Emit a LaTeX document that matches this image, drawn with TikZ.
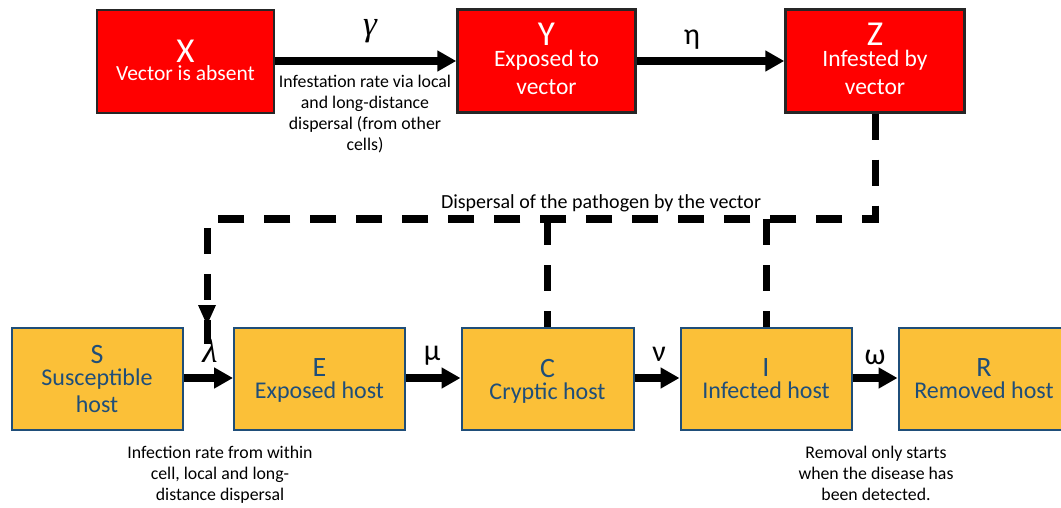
\documentclass[tikz,border=0pt]{standalone}
\usepackage{fontspec}
\setmainfont{Carlito}
\newfontfamily\greekit{Liberation Serif}
\usetikzlibrary{arrows.meta}
\definecolor{vred}{RGB}{255,0,0}
\definecolor{vborder}{RGB}{38,38,38}
\definecolor{hfill}{RGB}{251,192,56}
\definecolor{hborder}{RGB}{31,78,121}
\definecolor{htext}{RGB}{31,78,121}
\newcommand{\fsz}[1]{\fontsize{#1}{#1}\selectfont}
\newcommand{\lines}[2]{\fontsize{#1}{#2}\selectfont\lineskiplimit=-100pt\relax}
\begin{document}
\begin{tikzpicture}[x=1pt,y=-1pt,
  vbox/.style={draw=vborder,fill=vred,line width=2.5pt,inner sep=0pt,minimum width=177pt,minimum height=103pt,
    align=center,text=white,font=\lines{23.5}{21}},
  hbox/.style={draw=hborder,fill=hfill,line width=2pt,inner sep=0pt,minimum width=171pt,minimum height=102pt,
    align=center,text=htext,font=\lines{24}{22}},
  vbig/.style={font=\fsz{35}},
  note/.style={anchor=north,inner sep=0pt,align=center,text=black,font=\lines{17.8}{21}},
  greek/.style={anchor=base,inner sep=0pt,text=black,font=\fsz{30}},
  greekit/.style={anchor=base,inner sep=0pt,text=black,font=\greekit\itshape\fsz{35}},
  flow/.style={line width=7.5pt,-{Triangle[length=19pt,width=20pt]}},
  dashline/.style={line width=7pt,dash pattern=on 26pt off 20pt},
]
\path[use as bounding box] (0,0) rectangle (1061,508);

% vector boxes
\node[vbox,font=\lines{21.5}{18},text depth=3pt] (X) at (185.5,61.5) {{\fsz{35}X}\\Vector is absent};
\node[vbox,minimum width=178pt,text depth=5pt] (Y) at (546.5,61) {{\fsz{35}Y}\\Exposed to\\[7pt]vector};
\node[vbox,minimum width=179pt,text depth=5pt] (Z) at (875,61) {{\fsz{35}Z}\\Infested by\\[7pt]vector};

% host boxes
\node[hbox,text depth=1pt] (S) at (97,379) {{\fsz{28}S}\\Susceptible\\[5pt]host};
\node[hbox,text depth=0pt] (E) at (319.5,379) {{\fsz{28}E}\\Exposed host};
\node[hbox,minimum width=172pt,text depth=0pt] (C) at (547.5,379) {{\fsz{28}C}\\Cryptic host};
\node[hbox,text depth=0pt] (I) at (766,379) {{\fsz{28}I}\\Infected host};
\node[hbox,text depth=0pt] (R) at (984,379) {{\fsz{28}R}\\Removed host};

% top arrows
\draw[flow] (X.east |- 0,61) -- (Y.west |- 0,61);
\draw[flow] (Y.east |- 0,61) -- (Z.west |- 0,61);
\node[greekit] (gam) at (370,36) {γ};
\node[greek] (eta) at (692,45) {η};
\node[note] (inf) at (365,74.5) {Infestation rate via local\\and long-distance\\dispersal (from other\\cells)};

% bottom arrows
\draw[flow] (S.east |- 0,378) -- (E.west |- 0,378);
\draw[flow] (E.east |- 0,378) -- (C.west |- 0,378);
\draw[flow] (C.east |- 0,378) -- (I.west |- 0,378);
\draw[flow] (I.east |- 0,378) -- (R.west |- 0,378);
\node[greekit] (lam) at (210,362) {λ};
\node[greek] (mu) at (432,360) {μ};
\node[greek] (nu) at (659,361) {ν};
\node[greek] (om) at (875,364) {ω};

% dispersal by vector (dashed)
\coordinate (dr) at (875,219);
\coordinate (dl) at (207,219);
\coordinate (tip) at (207,325);
\coordinate (dc) at (547.5,219);
\coordinate (di) at (766,219);
\draw[dashline] (Z.south -| dr) -- (dr) -- (dl) -- ([yshift=-19pt]tip);
\fill (tip) -- ++(-9,-20) -- ++(18,0) -- cycle;
\draw[dashline] (dc) -- (C.north);
\draw[dashline] (di) -- (I.north);
\node[anchor=base,inner sep=0pt,font=\fsz{20}] (disp) at (601,208) {Dispersal of the pathogen by the vector};

% notes
\node[note] (infc) at (220,445.5) {Infection rate from within\\cell, local and long-\\distance dispersal};
\node[note] (rem) at (876,445.5) {Removal only starts\\when the disease has\\been detected.};
\end{tikzpicture}
\end{document}
